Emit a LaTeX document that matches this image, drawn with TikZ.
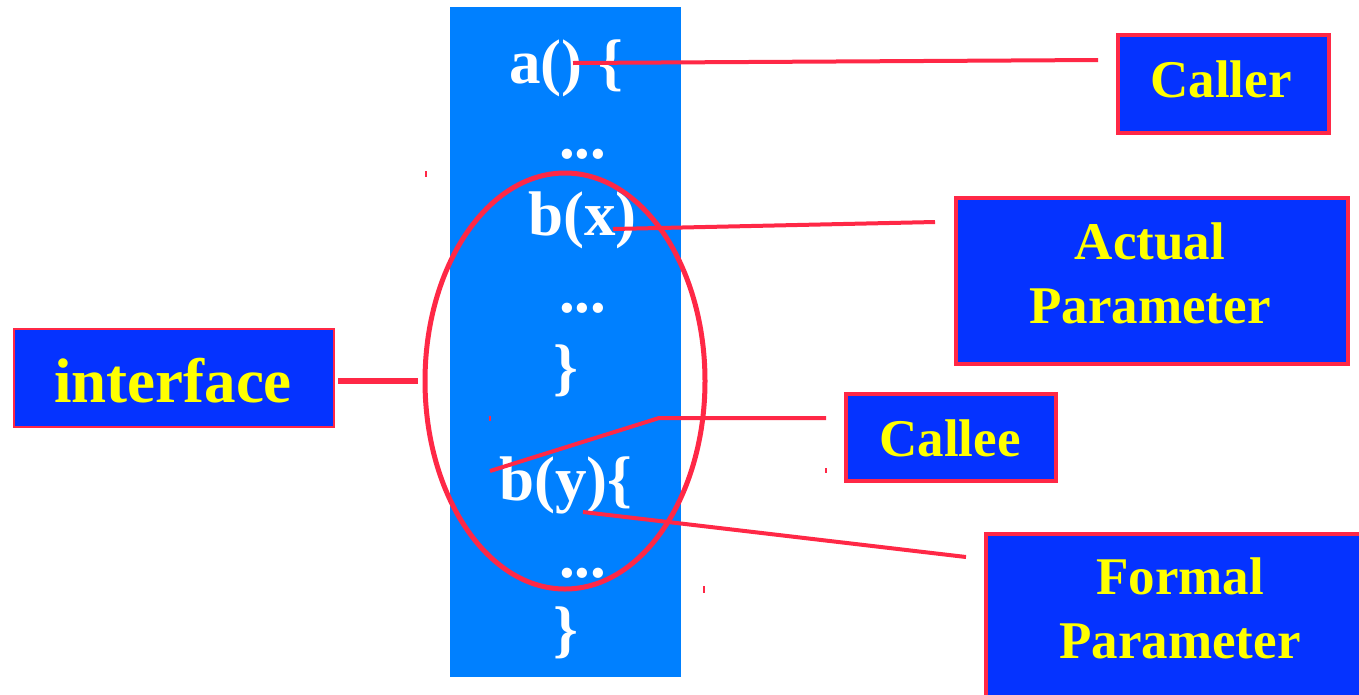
\documentclass[tikz,border=0pt]{standalone}
\usepackage{fontspec}
\setmainfont{Liberation Serif}
\definecolor{colblue}{RGB}{0,128,255}
\definecolor{boxblue}{RGB}{5,51,255}
\definecolor{redline}{RGB}{255,40,70}
\definecolor{txtyellow}{RGB}{255,255,0}
\tikzset{
  codetxt/.style={text=white, font=\bfseries\fontsize{63}{70}\selectfont, inner sep=0pt, anchor=base west},
  labelbox/.style={draw=redline, fill=boxblue, line width=4pt, inner sep=0pt, anchor=north west},
  labeltxt/.style={text=txtyellow, font=\bfseries\fontsize{53}{64}\selectfont, inner sep=0pt, align=center, anchor=base},
  conn/.style={draw=redline, line width=4pt},
  tick/.style={draw=redline, line width=1.5pt},
}
\begin{document}
\begin{tikzpicture}[x=1pt,y=-1pt]
\useasboundingbox (0,0) rectangle (1359,694);
\clip (0,0) rectangle (1359,694);
\fill[white] (0,0) rectangle (1359,694);
% code column
\node[fill=colblue, inner sep=0pt, minimum width=231pt, minimum height=670pt, anchor=north west] (col) at (450,7) {};
\node[codetxt] (ta) at (509,83) {a() \{};
\node[codetxt] (td1) at (559,158) {...};
\node[codetxt] (tbx) at (528,235) {b(x)};
\node[codetxt] (td2) at (559,312) {...};
\node[codetxt] (tc1) at (553,388) {\}};
\node[codetxt] (tby) at (499,500) {b(y)\{};
\node[codetxt] (td3) at (559,577) {...};
\node[codetxt] (tc2) at (553,650) {\}};
% ellipse
\draw[redline, line width=5pt] (565,381) ellipse [x radius=140, y radius=208];
\coordinate (ellw) at (418,381);
% label boxes
\node[labelbox, minimum width=211pt, minimum height=98pt] (caller) at (1116,33) {};
\node[labeltxt] (callert) at (1221,97) {Caller};
\node[labelbox, minimum width=392pt, minimum height=166pt] (actual) at (954,196) {};
\node[labeltxt] (actualt) at (1150,323) {Actual\\Parameter};
\node[labelbox, line width=2pt, minimum width=320pt, minimum height=98pt] (iface) at (13,328) {};
\node[labeltxt, font=\bfseries\fontsize{63}{70}\selectfont] (ifacet) at (173,402) {interface};
\node[labelbox, minimum width=210pt, minimum height=87pt] (callee) at (844,392) {};
\node[labeltxt] (calleet) at (950,456) {Callee};
\node[labelbox, minimum width=400pt, minimum height=200pt] (formal) at (984,532) {};
\node[labeltxt] (formalt) at (1180,658) {Formal\\Parameter};
% connector end points
\coordinate (pa) at (573,63);
\coordinate (pae) at (1098,60);
\coordinate (pbx) at (613,229);
\coordinate (pbxe) at (935,222);
\coordinate (pif) at (338,381);
\coordinate (pce) at (490,471);
\coordinate (pcm) at (659,418);
\coordinate (pcee) at (826,418);
\coordinate (pby) at (583,512);
\coordinate (pbye) at (966,557);
% connectors
\draw[conn] (pa) -- (pae);
\draw[conn] (pbx) -- (pbxe);
\draw[conn, line width=6pt] (pif) -- (ellw);
\draw[conn] (pce) -- (pcm) -- (pcee);
\draw[conn] (pby) -- (pbye);
% small marks
\coordinate (m1) at (426,171); \coordinate (m1b) at (426,177);
\coordinate (m2) at (490,416); \coordinate (m2b) at (490,421);
\coordinate (m3) at (826,468); \coordinate (m3b) at (826,473);
\coordinate (m4) at (704,586); \coordinate (m4b) at (704,593);
\draw[tick] (m1) -- (m1b);
\draw[tick] (m2) -- (m2b);
\draw[tick] (m3) -- (m3b);
\draw[tick] (m4) -- (m4b);
\end{tikzpicture}
\end{document}
